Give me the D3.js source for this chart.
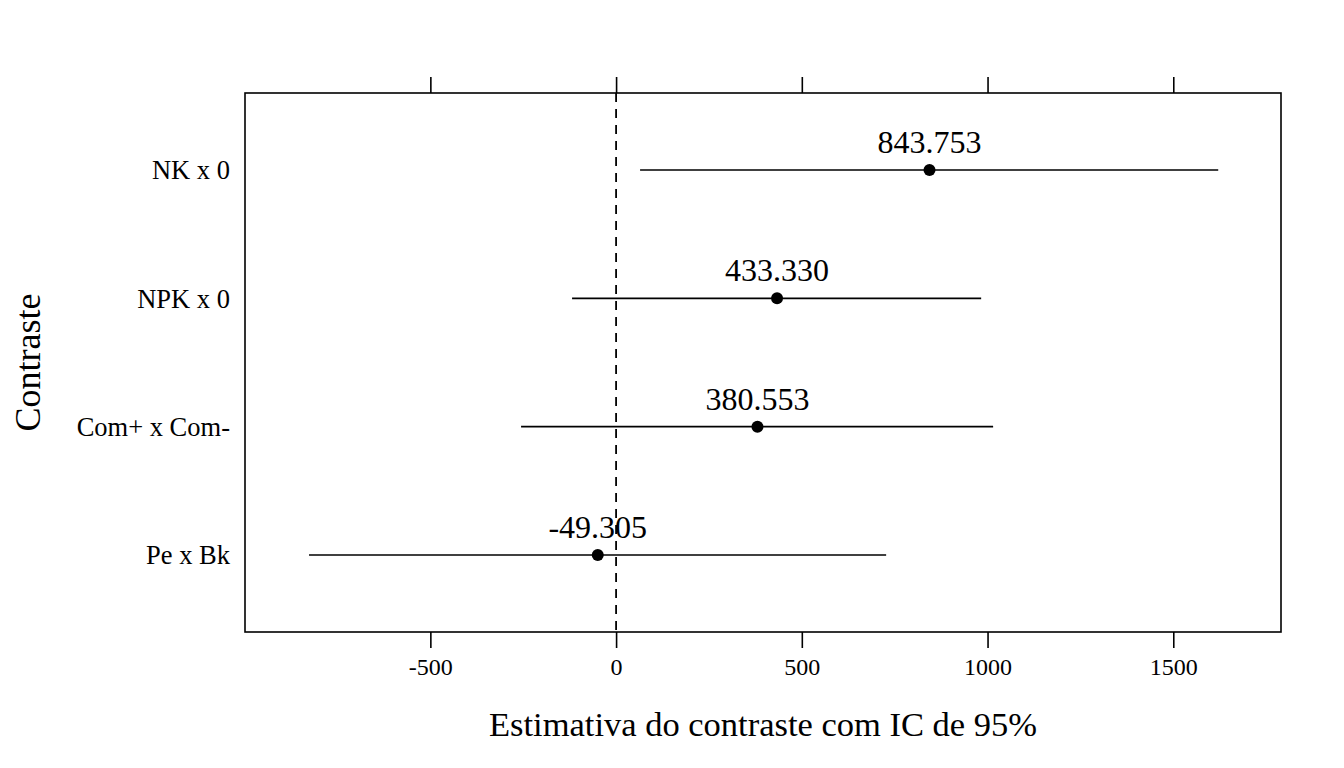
<!DOCTYPE html>
<html>
<head>
<meta charset="utf-8">
<script src="https://cdn.jsdelivr.net/npm/d3@7"></script>
<style>
  html, body { margin: 0; padding: 0; background: #fff; }
  svg text { font-family: "Liberation Serif", "Times New Roman", serif; fill: #000; }
</style>
</head>
<body>
<svg id="chart" width="1344" height="768"></svg>
<script>
// Data
const categories = ["NK x 0", "NPK x 0", "Com+ x Com-", "Pe x Bk"];
const estimates = [843.753, 433.330, 380.553, -49.305];
const lowerCI = [64.6, -118.5, -255.8, -826.6];
const upperCI = [1621.0, 982.8, 1015.0, 727.0];
const xTicks = [-500, 0, 500, 1000, 1500];
const xTickLabels = ["-500", "0", "500", "1000", "1500"];
const xTitle = "Estimativa do contraste com IC de 95%";
const yTitle = "Contraste";

const svg = d3.select("#chart");
const panel = { left: 245, right: 1281, top: 93, bottom: 632 };

const x = d3.scaleLinear().domain([-999, 1790]).range([panel.left, panel.right]);
// category positions: bottom category at 1, top at 4
const y = d3.scaleLinear().domain([0.4, 4.6]).range([panel.bottom, panel.top]);
const yPos = i => y(categories.length - i);

// Panel border
svg.append("rect")
  .attr("x", panel.left).attr("y", panel.top)
  .attr("width", panel.right - panel.left).attr("height", panel.bottom - panel.top)
  .attr("fill", "none").attr("stroke", "#000").attr("stroke-width", 1.6);

// Bottom axis
const bottomAxis = d3.axisBottom(x).tickValues(xTicks)
  .tickFormat((d, i) => xTickLabels[i]).tickSize(16).tickPadding(10);
const gb = svg.append("g").attr("transform", `translate(0,${panel.bottom})`).call(bottomAxis);
gb.select(".domain").remove();
gb.selectAll(".tick line").attr("stroke", "#000").attr("stroke-width", 1.6);
gb.selectAll(".tick text").attr("font-size", 24).attr("font-family", "Liberation Serif");

// Top axis (ticks only)
const topAxis = d3.axisTop(x).tickValues(xTicks).tickFormat("").tickSize(16);
const gt = svg.append("g").attr("transform", `translate(0,${panel.top})`).call(topAxis);
gt.select(".domain").remove();
gt.selectAll(".tick line").attr("stroke", "#000").attr("stroke-width", 1.6);

// Y category labels
svg.append("g").selectAll("text").data(categories).join("text")
  .attr("x", panel.left - 15)
  .attr("y", (d, i) => yPos(i))
  .attr("dy", "0.35em")
  .attr("text-anchor", "end")
  .attr("font-size", 26.5)
  .text(d => d);

// Reference line at 0
svg.append("line")
  .attr("x1", x(0)).attr("x2", x(0))
  .attr("y1", panel.top).attr("y2", panel.bottom)
  .attr("stroke", "#000").attr("stroke-width", 1.8)
  .attr("stroke-dasharray", "9,7");

// Interval lines
svg.append("g").selectAll("line").data(categories).join("line")
  .attr("x1", (d, i) => x(lowerCI[i]))
  .attr("x2", (d, i) => x(upperCI[i]))
  .attr("y1", (d, i) => yPos(i))
  .attr("y2", (d, i) => yPos(i))
  .attr("stroke", "#000").attr("stroke-width", 1.6);

// Points
svg.append("g").selectAll("circle").data(categories).join("circle")
  .attr("cx", (d, i) => x(estimates[i]))
  .attr("cy", (d, i) => yPos(i))
  .attr("r", 6)
  .attr("fill", "#000");

// Value labels
svg.append("g").selectAll("text").data(categories).join("text")
  .attr("x", (d, i) => x(estimates[i]))
  .attr("y", (d, i) => yPos(i) - 17)
  .attr("text-anchor", "middle")
  .attr("font-size", 32)
  .text((d, i) => estimates[i].toFixed(3));

// Axis titles
svg.append("text")
  .attr("x", (panel.left + panel.right) / 2)
  .attr("y", 736)
  .attr("text-anchor", "middle")
  .attr("font-size", 34.5)
  .text(xTitle);

svg.append("text")
  .attr("transform", `translate(40,${(panel.top + panel.bottom) / 2}) rotate(-90)`)
  .attr("text-anchor", "middle")
  .attr("font-size", 36)
  .text(yTitle);
</script>
</body>
</html>
